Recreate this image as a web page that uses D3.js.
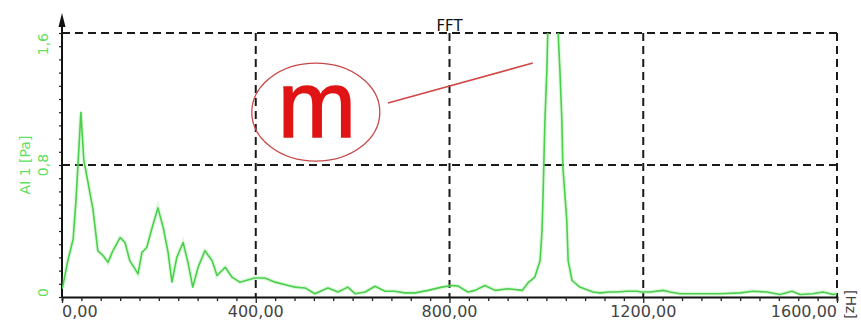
<!DOCTYPE html>
<html>
<head>
<meta charset="utf-8">
<script src="https://cdn.jsdelivr.net/npm/d3@7"></script>
<style>
  html, body { margin: 0; padding: 0; background: #fff; }
  svg { display: block; }
</style>
</head>
<body>
<div id="chart"></div>
<script>
// spectrum (Hz, Pa)
var freqs = [0, 2, 12, 23, 29, 39, 45, 54, 64, 74, 85, 95, 105, 120, 130, 140, 157, 165, 175, 186, 198,
  209, 219, 227, 237, 250, 260, 270, 281, 295, 310, 320, 337, 351, 367, 398, 419, 440, 467, 481,
  502, 522, 549, 570, 590, 605, 626, 646, 667, 687, 708, 729, 756, 784, 805, 818, 838, 853, 873,
  894, 921, 950, 962, 976, 987, 991, 993, 997, 1001, 1003, 1014, 1024, 1028, 1032, 1034, 1042,
  1045, 1053, 1069, 1096, 1111, 1131, 1146, 1166, 1187, 1197, 1214, 1241, 1255, 1276, 1317, 1358,
  1400, 1427, 1455, 1482, 1507, 1524, 1550, 1571, 1592, 1600];
var amps = [0.05, 0.07, 0.22, 0.35, 0.59, 1.12, 0.83, 0.69, 0.53, 0.28, 0.25, 0.21, 0.28, 0.36, 0.33, 0.22, 0.14, 0.27, 0.30, 0.42, 0.54,
  0.42, 0.27, 0.09, 0.24, 0.33, 0.21, 0.06, 0.18, 0.28, 0.22, 0.13, 0.18, 0.12, 0.09, 0.115, 0.115, 0.09, 0.07, 0.06,
  0.055, 0.02, 0.055, 0.03, 0.06, 0.02, 0.03, 0.065, 0.035, 0.035, 0.025, 0.025, 0.04, 0.06, 0.07, 0.066, 0.03, 0.04, 0.07,
  0.04, 0.05, 0.04, 0.085, 0.12, 0.22, 0.40, 0.60, 1.07, 1.37, 1.62, 1.75, 1.62, 1.37, 1.07, 0.79, 0.47,
  0.22, 0.10, 0.06, 0.03, 0.025, 0.03, 0.03, 0.035, 0.035, 0.03, 0.03, 0.04, 0.03, 0.02, 0.02, 0.02,
  0.025, 0.035, 0.03, 0.015, 0.035, 0.015, 0.02, 0.03, 0.015, 0.02];

var xMajor = [0, 400, 800, 1200, 1600];
var xLabels = ["0,00", "400,00", "800,00", "1200,00", "1600,00"];
var yMajor = [0, 0.8, 1.6];
var yLabels = ["0", "0,8", "1,6"];

var title = "FFT";
var yTitle = "AI 1 [Pa]";
var xUnit = "[Hz]";

var W = 861, H = 320;
var m = { left: 62, right: 837, top: 33, bottom: 297 };

var svg = d3.select("#chart").append("svg")
  .attr("width", W)
  .attr("height", H);

var x = d3.scaleLinear().domain([0, 1600]).range([m.left, m.right]);
var y = d3.scaleLinear().domain([0, 1.6]).range([m.bottom, m.top]);

var fontFam = "'DejaVu Sans', Verdana, sans-serif";

// grid (dashed)
var grid = svg.append("g")
  .attr("stroke", "#1a1a1a")
  .attr("stroke-width", 2)
  .attr("stroke-dasharray", "8,5");
grid.selectAll(".hg")
  .data(yMajor.slice(1))
  .enter().append("line")
  .attr("x1", m.left).attr("x2", m.right)
  .attr("y1", d => y(d)).attr("y2", d => y(d));
grid.selectAll(".vg")
  .data(xMajor.slice(1))
  .enter().append("line")
  .attr("x1", d => x(d)).attr("x2", d => x(d))
  .attr("y1", m.top).attr("y2", m.bottom);

// x axis with minor ticks every 40 Hz
var xAxis = d3.axisBottom(x)
  .tickValues(d3.range(0, 41).map(i => i * 40))
  .tickSize(4)
  .tickFormat("");
var gx = svg.append("g")
  .attr("transform", "translate(0," + m.bottom + ")")
  .call(xAxis);
gx.select(".domain").attr("stroke", "#111").attr("stroke-width", 1.8);
gx.selectAll(".tick line").attr("stroke", "#222").attr("stroke-width", 1.3)
  .attr("y2", d => (d % 400 === 0 ? 6 : 4));

// y axis with minor ticks every 0.08
var yAxis = d3.axisLeft(y)
  .tickValues(d3.range(0, 21).map(i => i * 0.08))
  .tickSize(3)
  .tickFormat("");
var gy = svg.append("g")
  .attr("transform", "translate(" + m.left + ",0)")
  .call(yAxis);
gy.select(".domain").remove();
gy.selectAll(".tick line").attr("stroke", "#222").attr("stroke-width", 1.2);

svg.append("line")
  .attr("x1", m.left).attr("x2", m.left)
  .attr("y1", m.bottom).attr("y2", 18)
  .attr("stroke", "#111").attr("stroke-width", 2);
svg.append("path")
  .attr("d", "M" + m.left + ",13 L" + (m.left - 3.5) + ",27 L" + (m.left + 3.5) + ",27 Z")
  .attr("fill", "#111");

// x tick labels
svg.selectAll(".xl")
  .data(xMajor)
  .enter().append("text")
  .attr("x", d => x(d))
  .attr("y", 317)
  .attr("text-anchor", (d, i) => i === 0 ? "start" : (i === xMajor.length - 1 ? "end" : "middle"))
  .attr("font-family", fontFam)
  .attr("font-size", 16)
  .attr("fill", "#444")
  .text((d, i) => xLabels[i]);

// y tick labels (rotated)
svg.selectAll(".yl")
  .data(yMajor)
  .enter().append("text")
  .attr("transform", d => "translate(43," + y(d) + ") rotate(-90)")
  .attr("text-anchor", (d, i) => i === 0 ? "start" : (i === yMajor.length - 1 ? "end" : "middle"))
  .attr("dominant-baseline", "central")
  .attr("font-family", fontFam)
  .attr("font-size", 14)
  .attr("fill", "#5fe05f")
  .text((d, i) => yLabels[i]);

svg.append("text")
  .attr("transform", "translate(25," + y(0.8) + ") rotate(-90)")
  .attr("text-anchor", "middle")
  .attr("dominant-baseline", "central")
  .attr("font-family", fontFam)
  .attr("font-size", 14)
  .attr("fill", "#5fe05f")
  .text(yTitle);

svg.append("text")
  .attr("x", (m.left + m.right) / 2)
  .attr("y", 31)
  .attr("text-anchor", "middle")
  .attr("font-family", fontFam)
  .attr("font-size", 15)
  .attr("fill", "#111")
  .text(title);

svg.append("text")
  .attr("transform", "translate(846,290) rotate(90)")
  .attr("font-family", fontFam)
  .attr("font-size", 14)
  .attr("fill", "#444")
  .text(xUnit);

// spectrum line, clipped to plot area
svg.append("clipPath").attr("id", "clip")
  .append("rect")
  .attr("x", m.left).attr("y", m.top)
  .attr("width", m.right - m.left).attr("height", m.bottom - m.top);

var data = freqs.map((f, i) => ({ f: f, v: amps[i] }));
var line = d3.line()
  .x(d => x(d.f))
  .y(d => y(d.v));

var plot = svg.append("g").attr("clip-path", "url(#clip)");
plot.append("path")
  .datum(data)
  .attr("fill", "none")
  .attr("stroke", "rgba(120,230,120,0.25)")
  .attr("stroke-width", 4)
  .attr("d", line);
plot.append("path")
  .datum(data)
  .attr("fill", "none")
  .attr("stroke", "#4ccf4c")
  .attr("stroke-width", 1.6)
  .attr("stroke-linejoin", "round")
  .attr("d", line);

// "m" annotation
var note = { f: 524, v: 1.12, lineFrom: [673, 1.176], lineTo: [972, 1.418] };
svg.append("line")
  .attr("x1", x(note.lineFrom[0])).attr("y1", y(note.lineFrom[1]))
  .attr("x2", x(note.lineTo[0])).attr("y2", y(note.lineTo[1]))
  .attr("stroke", "#d04848")
  .attr("stroke-width", 1.6);
svg.append("ellipse")
  .attr("cx", x(note.f)).attr("cy", y(note.v))
  .attr("rx", 64).attr("ry", 49)
  .attr("fill", "none")
  .attr("stroke", "#c84848")
  .attr("stroke-width", 1.3);
svg.append("text")
  .attr("x", x(note.f) + 1)
  .attr("y", y(note.v) + 25)
  .attr("text-anchor", "middle")
  .attr("font-family", "'Liberation Sans', Arial, sans-serif")
  .attr("font-size", 94)
  .attr("fill", "#e01414")
  .attr("stroke", "#e01414")
  .attr("stroke-width", 1.5)
  .text("m");
</script>
</body>
</html>
